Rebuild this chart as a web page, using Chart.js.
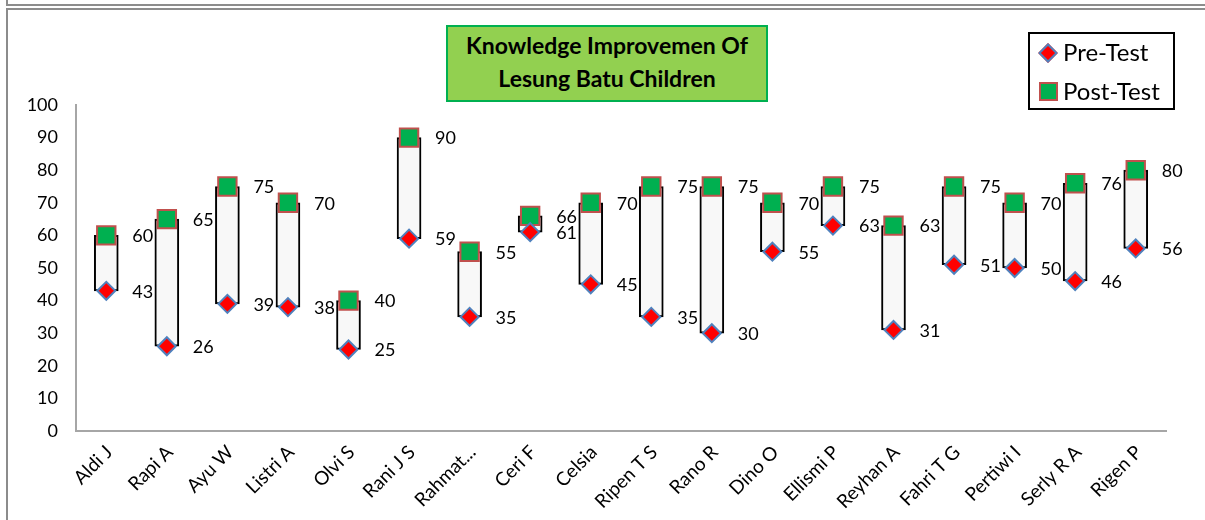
<!DOCTYPE html>
<html>
<head>
<meta charset="utf-8">
<script src="https://cdn.jsdelivr.net/npm/chart.js@4.4.1/dist/chart.umd.min.js"></script>
<style>
  body { margin: 0; width: 1205px; height: 520px; overflow: hidden; background: #fff; position: relative; font-family: Lato, "Open Sans", sans-serif; }
  .frame-top { position: absolute; left: 6px; top: -10px; width: 1300px; height: 14px; border-left: 2px solid #8c8c8c; border-bottom: 2px solid #8c8c8c; }
  .frame { position: absolute; left: 6px; top: 8px; width: 1300px; height: 600px; border-left: 2px solid #8c8c8c; border-top: 2px solid #8c8c8c; }
  #chart { position: absolute; left: 0; top: 0; }
  .title { position: absolute; left: 446px; top: 25px; width: 318px; height: 71px; background: #92d050; border: 2px solid #00b050;
           font-weight: bold; font-size: 23px; line-height: 33px; text-align: center; padding-top: 2px; box-sizing: content-box; color: #000; white-space: nowrap; }
  .legend { position: absolute; left: 1028px; top: 32px; width: 143px; height: 74px; border: 2px solid #000; font-size: 24px; color: #000; }
  .legend .row { position: absolute; left: 0; height: 30px; line-height: 30px; }
  .legend .txt { position: absolute; left: 33px; white-space: nowrap; }
  .mk-pre { position: absolute; left: 11px; top: 9px; width: 10px; height: 10px; background: #ff0000; border: 2px solid #4f81bd; transform: rotate(45deg); }
  .mk-post { position: absolute; left: 9px; top: 6px; width: 15px; height: 15px; background: #00b050; border: 2px solid #c0504d; }
</style>
</head>
<body>
<div class="frame-top"></div>
<div class="frame"></div>
<canvas id="chart" width="1205" height="520"></canvas>
<div class="title">Knowledge Improvemen Of<br>Lesung Batu Children</div>
<div class="legend">
  <div class="row" style="top:3px"><span class="mk-pre"></span><span class="txt">Pre-Test</span></div>
  <div class="row" style="top:42px"><span class="mk-post"></span><span class="txt">Post-Test</span></div>
</div>
<script>
// data
const names = ["Aldi J", "Rapi A", "Ayu W", "Listri A", "Olvi S", "Rani J S", "Rahmat...", "Ceri F", "Celsia",
  "Ripen T S", "Rano R", "Dino O", "Ellismi P", "Reyhan A", "Fahri T G", "Pertiwi I", "Serly R A", "Rigen P"];
const preTest = [43, 26, 39, 38, 25, 59, 35, 61, 45, 35, 30, 55, 63, 31, 51, 50, 46, 56];
const postTest = [60, 65, 75, 70, 40, 90, 55, 66, 70, 75, 75, 70, 75, 63, 75, 70, 76, 80];
const yTicks = [0, 10, 20, 30, 40, 50, 60, 70, 80, 90, 100];

const FONT = "Lato, 'Open Sans', sans-serif";

// numbers to the right of each marker
const valueLabels = {
  id: "valueLabels",
  afterDatasetsDraw(chart) {
    const ctx = chart.ctx;
    ctx.save();
    ctx.font = "18px " + FONT;
    ctx.fillStyle = "#000";
    ctx.textAlign = "left";
    ctx.textBaseline = "middle";
    [1, 2].forEach(di => {
      const ds = chart.data.datasets[di];
      chart.getDatasetMeta(di).data.forEach((pt, i) => {
        ctx.fillText(String(ds.data[i]), pt.x + 26, pt.y + 1);
      });
    });
    ctx.restore();
  }
};

new Chart(document.getElementById("chart"), {
  data: {
    labels: names,
    datasets: [
      {
        type: "bar",
        label: "range",
        data: names.map((n, i) => [preTest[i], postTest[i]]),
        backgroundColor: "#f8f8f8",
        borderColor: "#000",
        borderWidth: 2,
        borderSkipped: false,
        barThickness: 24,
        order: 3
      },
      {
        type: "line",
        label: "Pre-Test",
        data: preTest,
        showLine: false,
        pointStyle: "rectRot",
        pointRadius: 9,
        pointBackgroundColor: "#ff0000",
        pointBorderColor: "#4f81bd",
        pointBorderWidth: 2,
        order: 1
      },
      {
        type: "line",
        label: "Post-Test",
        data: postTest,
        showLine: false,
        pointStyle: "rect",
        pointRadius: 13,
        pointBackgroundColor: "#00b050",
        pointBorderColor: "#c0504d",
        pointBorderWidth: 2,
        order: 2
      }
    ]
  },
  options: {
    responsive: false,
    animation: false,
    layout: { padding: { left: 0, top: 105, right: 39, bottom: 0 } },
    plugins: { legend: { display: false }, tooltip: { enabled: false } },
    scales: {
      x: {
        grid: { display: false, drawTicks: false },
        border: { color: "#a6a6a6", width: 2 },
        ticks: { color: "#000", font: { size: 19, family: FONT }, minRotation: 45, maxRotation: 45, autoSkip: false, padding: 10, labelOffset: 3 },
        afterFit(scale) { scale.height = 89; }
      },
      y: {
        min: 0,
        max: 100,
        grid: { display: false, drawTicks: false },
        border: { color: "#a6a6a6", width: 2 },
        ticks: {
          color: "#000",
          font: { size: 18, family: FONT },
          padding: 18,
          stepSize: 10,
          callback: v => yTicks.includes(v) ? v : ""
        },
        afterFit(scale) { scale.width = 76; }
      }
    }
  },
  plugins: [valueLabels]
});
</script>
</body>
</html>
